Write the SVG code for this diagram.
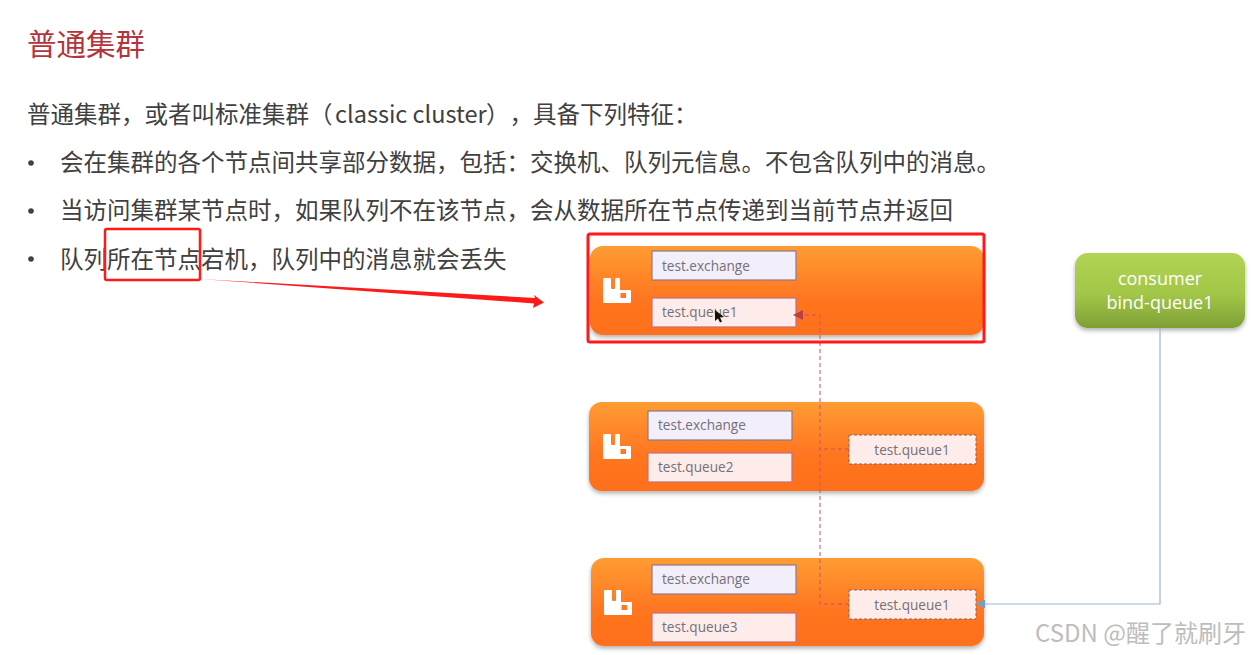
<svg xmlns="http://www.w3.org/2000/svg" width="1253" height="655" viewBox="0 0 1253 655">
<style>
.h{font-family:"Noto Sans CJK SC","Noto Sans",sans-serif}
.t{font-family:"Noto Sans CJK SC","Noto Sans",sans-serif;font-size:23.5px;fill:#404040}
.l{font-family:"Open Sans","Noto Sans",sans-serif;font-size:13.6px;fill:#757078}
.c{font-family:"Open Sans","Noto Sans",sans-serif;font-size:18px;fill:#fff;text-anchor:middle}
.ex{fill:#f2effb;stroke:#8c7a88;stroke-width:1.2}
.qu{fill:#fdecea;stroke:#c0707a;stroke-width:1.2}
.gh{fill:#fdecea;stroke:#8a6060;stroke-width:1;stroke-dasharray:3 2}
.b{fill:url(#og);filter:url(#sh)}
.d{fill:none;stroke:#c9545c;stroke-width:1;stroke-dasharray:4 3}
</style>
<defs>
<linearGradient id="og" x1="0" y1="0" x2="0" y2="1"><stop offset="0" stop-color="#ff9c33"/><stop offset=".6" stop-color="#ff7520"/><stop offset="1" stop-color="#ff6f1a"/></linearGradient>
<linearGradient id="gg" x1="0" y1="0" x2="0" y2="1"><stop offset="0" stop-color="#b3d455"/><stop offset=".55" stop-color="#a2c648"/><stop offset="1" stop-color="#7f9f36"/></linearGradient>
<filter id="sh" x="-5%" y="-10%" width="110%" height="125%"><feDropShadow dx="0" dy="2.5" stdDeviation="2" flood-color="#000" flood-opacity=".3"/></filter>
<marker id="ar" viewBox="0 0 10 10" refX="9" refY="5" markerWidth="12" markerHeight="10" markerUnits="userSpaceOnUse" orient="auto"><path d="M0 0L10 5L0 10Z" fill="#b8404c"/></marker>
<marker id="ab" viewBox="0 0 10 10" refX="9" refY="5" markerWidth="11" markerHeight="9" markerUnits="userSpaceOnUse" orient="auto"><path d="M0 0L10 5L0 10Z" fill="#6fa0d0"/></marker>
<path id="rb" fill="#fff" fill-rule="evenodd" d="M0 1Q0 0 1 0H7Q8 0 8 1V10Q8 11 9 11H11Q12 11 12 10V1Q12 0 13 0H16Q17 0 17 1V12H27Q28 12 28 13V24Q28 25 27 25H1Q0 25 0 24ZM17.500 15V20H23V15Z"/>
</defs>
<rect width="1253" height="655" fill="#fff"/>
<g id="text">
<text class="h" x="27" y="55" font-size="29.500" fill="#b5343c">普通集群</text>
<text class="t" y="123"><tspan x="27">普通集群，或者叫标准集群（</tspan><tspan x="335">classic cluster</tspan><tspan x="486">）</tspan><tspan x="509.500">，</tspan><tspan x="533">具备下列特征：</tspan></text>
<circle cx="31" cy="163" r="2.800" fill="#404040"/>
<text class="t" x="60" y="171">会在集群的各个节点间共享部分数据，包括：交换机、队列元信息。不包含队列中的消息。</text>
<circle cx="31" cy="211" r="2.800" fill="#404040"/>
<text class="t" x="60" y="219">当访问集群某节点时，如果队列不在该节点，会从数据所在节点传递到当前节点并返回</text>
<circle cx="31" cy="259" r="2.800" fill="#404040"/>
<text class="t" x="60" y="268">队列所在节点宕机，队列中的消息就会丢失</text>
</g>
<g id="node1">
<rect class="b" x="590" y="246" width="394" height="89" rx="13"/>
<use href="#rb" x="603" y="278"/>
<rect class="ex" x="652" y="251" width="144" height="29"/>
<text class="l" x="662" y="271">test.exchange</text>
<rect class="qu" x="652" y="298" width="144" height="29"/>
<text class="l" x="662" y="317">test.queue1</text>
</g>
<g id="node2">
<rect class="b" x="589" y="402" width="395" height="89" rx="13"/>
<use href="#rb" x="603" y="434"/>
<rect class="ex" x="648" y="411" width="144" height="29"/>
<text class="l" x="658" y="430">test.exchange</text>
<rect class="qu" x="648" y="453" width="144" height="29"/>
<text class="l" x="658" y="472">test.queue2</text>
<rect class="gh" x="849" y="435" width="127" height="29"/>
<text class="l" x="912" y="455" text-anchor="middle">test.queue1</text>
</g>
<g id="node3">
<rect class="b" x="591" y="558" width="393" height="88" rx="13"/>
<use href="#rb" x="604" y="590"/>
<rect class="ex" x="652" y="565" width="144" height="29"/>
<text class="l" x="662" y="584">test.exchange</text>
<rect class="qu" x="652" y="613" width="144" height="29"/>
<text class="l" x="662" y="632">test.queue3</text>
<rect class="gh" x="849" y="590" width="127" height="29"/>
<text class="l" x="912" y="610" text-anchor="middle">test.queue1</text>
</g>
<g id="consumer">
<rect x="1075" y="253" width="170" height="75" rx="13" fill="url(#gg)" filter="url(#sh)"/>
<text class="c" x="1160" y="285">consumer</text>
<text class="c" x="1160" y="309">bind-queue1</text>
</g>
<g id="connectors">
<path class="d" d="M849 604H820V315H794" marker-end="url(#ar)"/>
<path class="d" d="M849 449H820"/>
<path d="M1160 328V604H977" fill="none" stroke="#9db4d8" stroke-width="1.200" marker-end="url(#ab)"/>
<path d="M200 279L535 298L534 295L544 302.500L533 308L534 303.500Z" fill="#ff1a1a"/>
</g>
<g id="highlights" fill="none" stroke="#ff1a1a" stroke-linejoin="round">
<rect x="105" y="229" width="95" height="51" rx="2" stroke-width="2.500"/>
<rect x="588" y="234" width="396" height="108" rx="2" stroke-width="3"/>
</g>
<path id="cursor" d="M715 310v11l3-2.500 2 4 2-1-2-4 4-.5z" fill="#111"/>
<text x="1035" y="642" font-family="Noto Sans CJK SC,Noto Sans,sans-serif" font-size="24" fill="#bdbdbd">CSDN @醒了就刷牙</text>
</svg>
